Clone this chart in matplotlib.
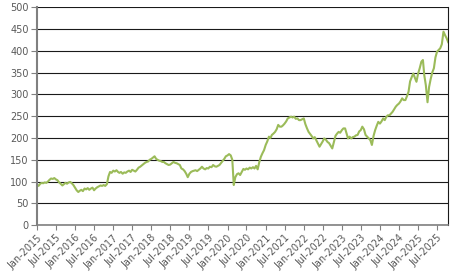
import matplotlib
matplotlib.use("Agg")
import matplotlib.pyplot as plt
import pandas as pd

# Two readings per month (1st and 16th), Jan-2015 .. Oct-2025
v2015 = [93, 90, 95, 97, 96, 98, 97, 100, 104, 107, 106, 108,
         105, 103, 98, 95, 91, 94, 97, 95, 98, 99, 96, 92]
v2016 = [86, 80, 76, 79, 81, 78, 84, 82, 85, 81, 84, 86,
         80, 84, 87, 89, 91, 90, 92, 90, 94, 112, 122, 120]
v2017 = [125, 123, 126, 122, 120, 122, 118, 121, 120, 123, 125, 122,
         127, 125, 123, 127, 132, 134, 137, 140, 143, 145, 146, 150]
v2018 = [152, 155, 158, 152, 150, 148, 147, 145, 145, 142, 140, 138,
         139, 142, 145, 143, 142, 140, 138, 130, 128, 124, 118, 110]
v2019 = [118, 122, 124, 125, 126, 124, 127, 130, 134, 130, 128, 131,
         130, 134, 133, 138, 135, 134, 136, 138, 143, 148, 152, 158]
v2020 = [160, 163, 160, 150, 92, 110, 117, 119, 115, 122, 129, 127,
         130, 128, 132, 130, 133, 130, 136, 128, 145, 157, 165, 172]
v2021 = [184, 192, 203, 200, 207, 210, 214, 220, 230, 226, 226, 229,
         233, 238, 245, 247, 249, 247, 249, 244, 245, 241, 241, 243]
v2022 = [245, 232, 222, 214, 210, 205, 199, 202, 195, 188, 180, 186,
         192, 199, 196, 191, 188, 182, 176, 190, 205, 210, 214, 212]
v2023 = [218, 222, 222, 210, 199, 203, 199, 202, 203, 206, 207, 215,
         218, 226, 220, 207, 203, 199, 195, 184, 205, 218, 228, 237]
v2024 = [233, 238, 245, 241, 248, 252, 252, 256, 260, 266, 272, 276,
         279, 284, 291, 287, 287, 296, 306, 330, 340, 348, 338, 329]
v2025 = [348, 360, 375, 379, 344, 321, 282, 317, 335, 350,
         360, 385, 398, 402, 406, 415, 444, 436, 429, 420]

y_ticks = [0, 50, 100, 150, 200, 250, 300, 350, 400, 450, 500]
tick_start = "2015-01-01"
tick_end = "2025-07-01"

values = v2015 + v2016 + v2017 + v2018 + v2019 + v2020 + v2021 + v2022 + v2023 + v2024 + v2025
months = pd.date_range("2015-01-01", periods=(len(values) + 1) // 2, freq="MS")
dates = []
for m in months:
    dates.append(m)
    dates.append(m + pd.Timedelta(days=15))
dates = dates[:len(values)]

fig = plt.figure(figsize=(4.55, 2.8), dpi=100)
ax = fig.add_axes([0.0813, 0.196, 0.9037, 0.778])

ax.plot(dates, values, color="#9BBB59", linewidth=1.5, solid_joinstyle="round")

ax.set_ylim(0, 500)
ax.set_yticks(y_ticks)
ax.set_xlim(pd.Timestamp("2015-01-01"), pd.Timestamp("2025-10-16"))
xt = pd.date_range(tick_start, tick_end, freq="6MS")
ax.set_xticks(xt)
ax.set_xticklabels([d.strftime("%b-%Y") for d in xt], rotation=45, ha="right",
                   rotation_mode="anchor")

ax.yaxis.grid(True, color="#1a1a1a", linewidth=0.8)
ax.set_axisbelow(True)

ax.spines["top"].set_visible(False)
ax.spines["right"].set_color("#1a1a1a")
ax.spines["right"].set_linewidth(0.8)
ax.spines["left"].set_color("#808080")
ax.spines["left"].set_linewidth(1.5)
ax.spines["bottom"].set_color("#808080")
ax.spines["bottom"].set_linewidth(1.2)

ax.tick_params(axis="y", length=4, width=0.8, color="#808080", pad=2,
               labelsize=7, labelcolor="#595959")
ax.tick_params(axis="x", length=3.5, width=0.8, color="#808080", pad=2,
               labelsize=7, labelcolor="#595959")

fig.savefig("out.png", dpi=100)
